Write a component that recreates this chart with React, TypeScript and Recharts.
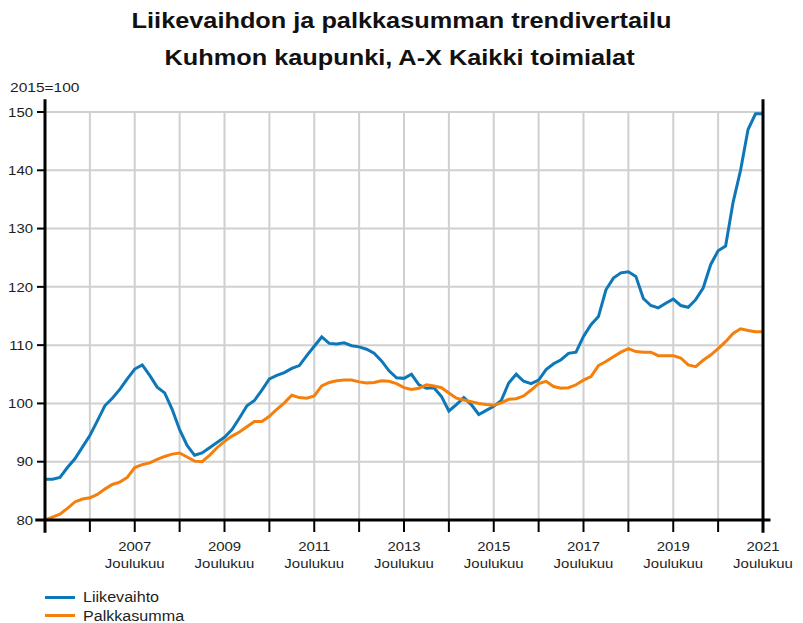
import React from "react";
import { LineChart, Line, XAxis, YAxis, CartesianGrid, ReferenceLine } from "recharts";

// month index: 0 = joulukuu 2005, 12 = joulukuu 2006, ... 192 = joulukuu 2021
const months = [
  0, 2, 4, 6, 8, 10, 12, 14, 16, 18, 20, 22, 24, 26, 28, 30, 32, 34, 36, 38, 40, 42, 44, 46,
  48, 50, 52, 54, 56, 58, 60, 62, 64, 66, 68, 70, 72, 74, 76, 78, 80, 82, 84, 86, 88, 90, 92, 94,
  96, 98, 100, 102, 104, 106, 108, 110, 112, 114, 116, 118, 120, 122, 124, 126, 128, 130, 132, 134, 136, 138, 140, 142,
  144, 146, 148, 150, 152, 154, 156, 158, 160, 162, 164, 166, 168, 170, 172, 174, 176, 178, 180, 182, 184, 186, 188, 190, 192,
];

const liikevaihto = [
  87, 87, 87.3, 89, 90.5, 92.5, 94.5, 97, 99.6, 100.9, 102.4, 104.2, 105.9, 106.6, 104.8, 102.8, 101.8, 99, 95.5, 92.8, 91.1, 91.5, 92.4, 93.3,
  94.2, 95.5, 97.5, 99.6, 100.5, 102.3, 104.2, 104.8, 105.3, 106, 106.5, 108.2, 109.8, 111.4, 110.3, 110.2, 110.4, 109.9, 109.7, 109.3, 108.6, 107.3, 105.6, 104.4,
  104.3, 105, 103.2, 102.6, 102.7, 101.2, 98.7, 99.8, 101, 99.8, 98.1, 98.8, 99.5, 100.5, 103.5, 105, 103.8, 103.4, 104, 105.8, 106.8, 107.5, 108.6, 108.8,
  111.5, 113.5, 114.9, 119.5, 121.5, 122.4, 122.6, 121.8, 118, 116.8, 116.4, 117.2, 117.9, 116.8, 116.5, 117.8, 119.8, 123.8, 126.2, 127, 134.5, 140, 147, 149.7, 149.7,
];

const palkkasumma = [
  80, 80.5, 81, 82, 83.1, 83.6, 83.8, 84.4, 85.3, 86.1, 86.5, 87.3, 89, 89.5, 89.8, 90.4, 90.9, 91.3, 91.5, 90.8, 90.1, 90, 91.1, 92.4,
  93.5, 94.4, 95.1, 96, 96.9, 96.9, 97.8, 99, 100.1, 101.4, 101, 100.9, 101.3, 103, 103.6, 103.9, 104, 104, 103.7, 103.5, 103.6, 103.9, 103.8, 103.4,
  102.7, 102.4, 102.6, 103.2, 103, 102.7, 101.8, 100.9, 100.6, 100.3, 100, 99.8, 99.7, 100.1, 100.7, 100.8, 101.3, 102.3, 103.4, 103.8, 102.9, 102.6, 102.7, 103.2,
  104, 104.6, 106.5, 107.2, 108, 108.8, 109.4, 108.9, 108.8, 108.8, 108.2, 108.2, 108.2, 107.8, 106.6, 106.3, 107.4, 108.3, 109.4, 110.6, 112, 112.8, 112.5, 112.3, 112.3,
];

const xTicks = [12, 24, 36, 48, 60, 72, 84, 96, 108, 120, 132, 144, 156, 168, 180, 192];
const xTickYears: Record<number, string> = {
  24: "2007", 48: "2009", 72: "2011", 96: "2013", 120: "2015", 144: "2017", 168: "2019", 192: "2021",
};
const monthLabel = "Joulukuu";
const yTicks = [80, 90, 100, 110, 120, 130, 140, 150];

const title = "Liikevaihdon ja palkkasumman trendivertailu";
const subtitle = "Kuhmon kaupunki, A-X Kaikki toimialat";
const baseLabel = "2015=100";
const seriesNames = ["Liikevaihto", "Palkkasumma"];
const colors = ["#0e77b8", "#f57f0d"];

const data = months.map((m, i) => ({ m, liikevaihto: liikevaihto[i], palkkasumma: palkkasumma[i] }));

const FONT = "'Liberation Sans', Arial, sans-serif";
const SX = 1.15;
const TXT = "#1e1e1e";

const XTick = (props: any) => {
  const { x, y, payload } = props;
  const yr = xTickYears[payload.value];
  if (!yr) return null;
  return (
    <g transform={`translate(${x},${y}) scale(${SX},1)`}>
      <text x={0} y={17} textAnchor="middle" fontFamily={FONT} fontSize={13} fill={TXT}>{yr}</text>
      <text x={0} y={34} textAnchor="middle" fontFamily={FONT} fontSize={13} fill={TXT}>{monthLabel}</text>
    </g>
  );
};

const YTick = (props: any) => {
  const { x, y, payload, textAnchor } = props;
  return (
    <g transform={`translate(${x},${y}) scale(${SX},1)`}>
      <text x={0} y={0} dy="0.36em" textAnchor={textAnchor} fontFamily={FONT} fontSize={13} fill={TXT}>{payload.value}</text>
    </g>
  );
};

export default function App() {
  const stretch = { transform: `scaleX(${SX})` } as React.CSSProperties;
  return (
    <div style={{ position: "absolute", left: 0, top: 0, width: 803, height: 623, background: "#fff", fontFamily: FONT, overflow: "hidden" }}>
      <div style={{ position: "absolute", left: 0, top: 8, width: 803, textAlign: "center", fontSize: 22, fontWeight: "bold", color: "#111", ...stretch, transformOrigin: "401px 0" }}>{title}</div>
      <div style={{ position: "absolute", left: 0, top: 45, width: 799, textAlign: "center", fontSize: 22, fontWeight: "bold", color: "#111", ...stretch, transformOrigin: "399px 0" }}>{subtitle}</div>
      <div style={{ position: "absolute", left: 10, top: 80, fontSize: 13.5, color: TXT, ...stretch, transformOrigin: "0 0" }}>{baseLabel}</div>
      <LineChart
        width={803}
        height={623}
        data={data}
        margin={{ top: 112, left: 5, right: 0, bottom: 53 }}
      >
        <CartesianGrid yAxisId="left" stroke="#d0d0d0" strokeWidth={2} />
        <XAxis
          dataKey="m"
          type="number"
          domain={[0, 192]}
          ticks={xTicks}
          interval={0}
          height={50}
          axisLine={false}
          tickLine={{ stroke: "#000", strokeWidth: 2 }}
          tickSize={12}
          tick={<XTick />}
        />
        <YAxis
          yAxisId="left"
          orientation="left"
          domain={[80, 150]}
          ticks={yTicks}
          width={40}
          axisLine={false}
          tickLine={{ stroke: "#000", strokeWidth: 2 }}
          tickSize={8}
          tickMargin={4}
          tick={<YTick />}
        />
        <YAxis
          yAxisId="right"
          orientation="right"
          domain={[80, 150]}
          ticks={yTicks}
          width={40}
          axisLine={false}
          tickLine={{ stroke: "#000", strokeWidth: 2 }}
          tickSize={8}
          tickMargin={4}
          tick={<YTick />}
        />
        <Line yAxisId="left" dataKey="liikevaihto" stroke={colors[0]} strokeWidth={3} dot={false} isAnimationActive={false} />
        <Line yAxisId="left" dataKey="palkkasumma" stroke={colors[1]} strokeWidth={3} dot={false} isAnimationActive={false} />
        <ReferenceLine yAxisId="left" segment={[{ x: 0, y: 152.2 }, { x: 0, y: 77.8 }]} stroke="#000" strokeWidth={3} ifOverflow="visible" />
        <ReferenceLine yAxisId="left" segment={[{ x: 192, y: 152.2 }, { x: 192, y: 77.8 }]} stroke="#000" strokeWidth={3} ifOverflow="visible" />
        <ReferenceLine yAxisId="left" segment={[{ x: -2.6, y: 80 }, { x: 194, y: 80 }]} stroke="#000" strokeWidth={3} ifOverflow="visible" />
      </LineChart>
      {seriesNames.map((name, i) => (
        <div key={name} style={{ position: "absolute", left: 45, top: 590 + i * 18.5, height: 14, display: "flex", alignItems: "center" }}>
          <div style={{ width: 30, height: 3, background: colors[i], marginRight: 8 }} />
          <span style={{ fontSize: 14, lineHeight: "14px", color: TXT, display: "inline-block", ...stretch, transformOrigin: "0 50%" }}>{name}</span>
        </div>
      ))}
    </div>
  );
}
